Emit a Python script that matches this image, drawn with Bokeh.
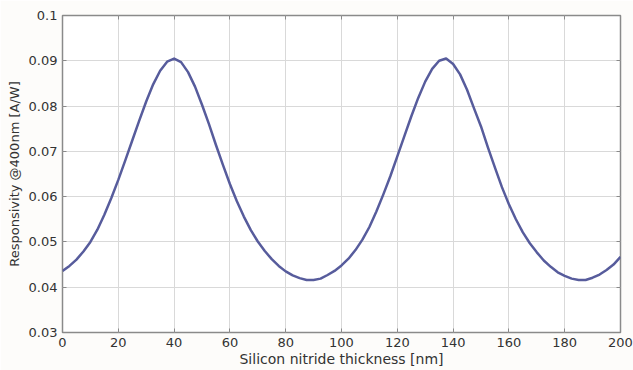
from bokeh.plotting import figure
from bokeh.models import LinearAxis, FixedTicker, CustomJSTickFormatter, Range1d
from bokeh.embed import file_html
from bokeh.resources import INLINE

thickness_nm = [0, 2.5, 5, 7.5, 10, 12.5, 15, 17.5, 20, 22.5, 25, 27.5, 30, 32.5, 35, 37.5,
                40, 42.5, 45, 47.5, 50, 52.5, 55, 57.5, 60, 62.5, 65, 67.5, 70, 72.5, 75, 77.5,
                80, 82.5, 85, 87.5, 90, 92.5, 95, 97.5, 100, 102.5, 105, 107.5, 110, 112.5,
                115, 117.5, 120, 122.5, 125, 127.5, 130, 132.5, 135, 137.5, 140, 142.5, 145,
                147.5, 150, 152.5, 155, 157.5, 160, 162.5, 165, 167.5, 170, 172.5, 175, 177.5,
                180, 182.5, 185, 187.5, 190, 192.5, 195, 197.5, 200]
responsivity = [0.0436, 0.0447, 0.0461, 0.0479, 0.0500, 0.0527, 0.0560, 0.0597, 0.0637, 0.0680,
                0.0724, 0.0768, 0.0810, 0.0848, 0.0878, 0.0898,
                0.0905, 0.0897, 0.0875, 0.0843, 0.0803, 0.0760, 0.0714, 0.0670, 0.0628, 0.0590,
                0.0556, 0.0526, 0.0501, 0.0480, 0.0462, 0.0447,
                0.0435, 0.0426, 0.0420, 0.0416, 0.0416, 0.0419, 0.0427, 0.0436, 0.0448, 0.0463,
                0.0482, 0.0505, 0.0533, 0.0567,
                0.0605, 0.0645, 0.0689, 0.0733, 0.0777, 0.0818, 0.0854, 0.0882, 0.0900, 0.0905,
                0.0893, 0.0870, 0.0836,
                0.0795, 0.0755, 0.0708, 0.0664, 0.0621, 0.0583, 0.0550, 0.0521, 0.0497, 0.0477,
                0.0459, 0.0445, 0.0433,
                0.0425, 0.0419, 0.0416, 0.0416, 0.0421, 0.0428, 0.0438, 0.0450, 0.0467]

x_ticks = [0, 20, 40, 60, 80, 100, 120, 140, 160, 180, 200]
y_ticks = [0.03, 0.04, 0.05, 0.06, 0.07, 0.08, 0.09, 0.1]

FONT = "DejaVu Sans"
TXT = "#333333"
EDGE = "#8a8a8a"

p = figure(width=633, height=370, output_backend="svg", toolbar_location=None,
           x_range=Range1d(0, 200), y_range=Range1d(0.03, 0.1),
           min_border_left=62, min_border_right=13, min_border_top=15, min_border_bottom=38)
p.background_fill_color = "white"
p.border_fill_color = "#fdfcfa"
p.outline_line_color = EDGE
p.outline_line_width = 1.5

p.xgrid.ticker = FixedTicker(ticks=x_ticks)
p.ygrid.ticker = FixedTicker(ticks=y_ticks)
p.grid.grid_line_color = "#d9d9d9"
p.grid.grid_line_width = 1

fmt_y = CustomJSTickFormatter(code="return Number(tick.toFixed(2)).toString();")

def style(ax, labels=True):
    ax.major_tick_in = 4
    ax.major_tick_out = 0
    ax.minor_tick_line_color = None
    ax.major_tick_line_color = EDGE
    ax.axis_line_color = None
    ax.major_label_text_font = FONT
    ax.major_label_text_color = TXT
    ax.major_label_text_font_size = "13px"
    ax.axis_label_text_font = FONT
    ax.axis_label_text_color = TXT
    ax.axis_label_text_font_size = "13px"
    ax.axis_label_text_font_style = "normal"
    if not labels:
        ax.major_label_text_font_size = "1px"
        ax.major_label_text_alpha = 0
        ax.major_label_standoff = 0

p.xaxis.ticker = FixedTicker(ticks=x_ticks)
p.yaxis.ticker = FixedTicker(ticks=y_ticks)
p.yaxis.formatter = fmt_y
p.xaxis.axis_label = "Silicon nitride thickness [nm]"
p.yaxis.axis_label = "Responsivity @400nm [A/W]"
style(p.xaxis[0])
style(p.yaxis[0])
p.xaxis.axis_label_text_font_size = "14px"
p.xaxis.major_label_standoff = 5
p.xaxis.axis_label_standoff = 1
p.yaxis.major_label_standoff = 5
p.yaxis.axis_label_standoff = 4

top = LinearAxis(ticker=FixedTicker(ticks=x_ticks))
right = LinearAxis(ticker=FixedTicker(ticks=y_ticks))
style(top, labels=False)
style(right, labels=False)
p.add_layout(top, "above")
p.add_layout(right, "right")

p.line(thickness_nm, responsivity, line_color="#575c9c", line_width=2.5,
       line_join="round")

open("out.html", "w").write(file_html(p, INLINE))
